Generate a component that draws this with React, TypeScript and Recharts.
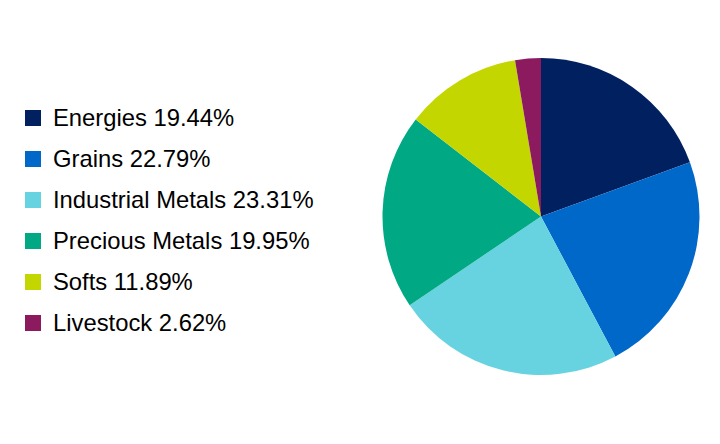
import React from "react";
import { PieChart, Pie, Cell } from "recharts";

const categories = ["Energies", "Grains", "Industrial Metals", "Precious Metals", "Softs", "Livestock"];
const weights = [19.44, 22.79, 23.31, 19.95, 11.89, 2.62];
const colors = ["#002060", "#0068C8", "#68D3E0", "#00A984", "#C4D600", "#8C1A5E"];

const data = categories.map((name, i) => ({ name, value: weights[i] }));

const LegendBox = () => (
  <div
    style={{
      position: "absolute",
      left: 25,
      top: 97.5,
      fontFamily: "'Liberation Sans', Arial, sans-serif",
      fontSize: 23.8,
      color: "#000",
      whiteSpace: "nowrap",
    }}
  >
    {data.map((d, i) => (
      <div key={d.name} style={{ display: "flex", alignItems: "center", height: 41 }}>
        <span style={{ width: 16, height: 16, background: colors[i], display: "inline-block", marginRight: 12, flex: "none" }} />
        <span>{`${d.name} ${d.value.toFixed(2)}%`}</span>
      </div>
    ))}
  </div>
);

export default function App() {
  return (
    <div style={{ position: "absolute", left: 0, top: 0, width: 720, height: 444, background: "#fff" }}>
      <PieChart width={720} height={444} margin={{ top: 0, right: 0, bottom: 0, left: 0 }}>
        <Pie
          data={data}
          dataKey="value"
          nameKey="name"
          cx={541}
          cy={216.5}
          outerRadius={158.5}
          startAngle={90}
          endAngle={-270}
          stroke="none"
          isAnimationActive={false}
        >
          {data.map((d, i) => (
            <Cell key={d.name} fill={colors[i]} />
          ))}
        </Pie>
      </PieChart>
      <LegendBox />
    </div>
  );
}
